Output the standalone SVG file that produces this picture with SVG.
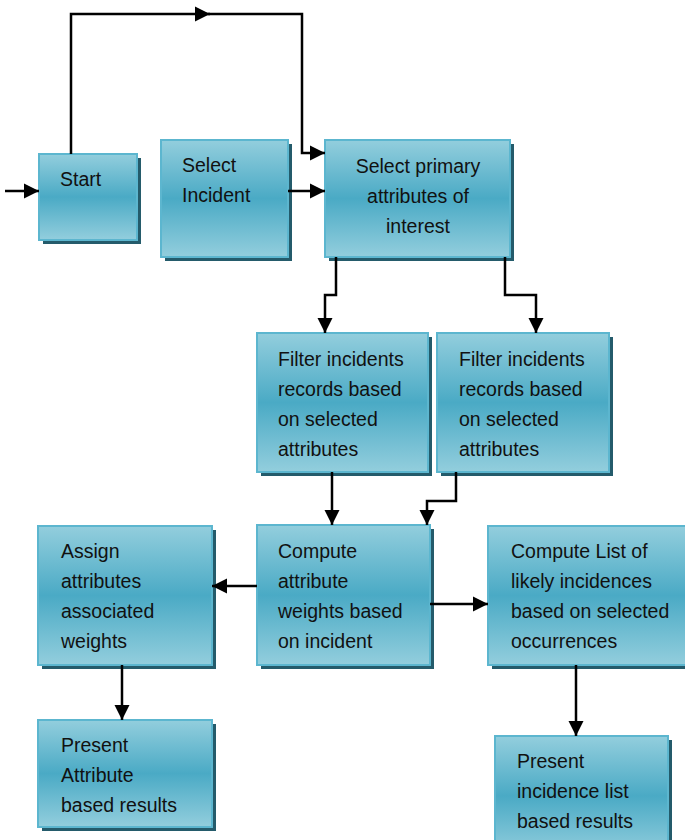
<svg xmlns="http://www.w3.org/2000/svg" width="685" height="840" viewBox="0 0 685 840">
<defs>
<linearGradient id="g" x1="0" y1="0" x2="0" y2="1">
<stop offset="0" stop-color="#93ceDD"/>
<stop offset="0.5" stop-color="#4aaac5"/>
<stop offset="1" stop-color="#93ceDD"/>
</linearGradient>
<marker id="ah" markerUnits="userSpaceOnUse" markerWidth="16" markerHeight="16" refX="15" refY="8" orient="auto">
<path d="M0,0.5 L15,8 L0,15.5 z" fill="#000"/>
</marker>
</defs>
<style>
.sh{fill:#245b6b}
.bx{fill:url(#g);stroke:#5cb6cf;stroke-width:2}
.t{font-family:"Liberation Sans",Arial,sans-serif;font-size:19.5px;fill:#111}
.c{fill:none;stroke:#000;stroke-width:2.5}
</style>
<g id="start">
<rect class="sh" x="43" y="158" width="98" height="86"/>
<rect class="bx" x="39" y="154" width="98" height="86"/>
<text class="t" x="60" y="186">Start</text>
</g>
<g id="select-incident">
<rect class="sh" x="165" y="144" width="127" height="117"/>
<rect class="bx" x="161" y="140" width="127" height="117"/>
<text class="t" x="182" y="172">Select</text>
<text class="t" x="182" y="202">Incident</text>
</g>
<g id="select-primary">
<rect class="sh" x="329" y="144" width="185" height="117"/>
<rect class="bx" x="325" y="140" width="185" height="117"/>
<text class="t" x="418" y="173" text-anchor="middle">Select primary</text>
<text class="t" x="418" y="203" text-anchor="middle">attributes of</text>
<text class="t" x="418" y="233" text-anchor="middle">interest</text>
</g>
<g id="filter-left">
<rect class="sh" x="261" y="337" width="171" height="139"/>
<rect class="bx" x="257" y="333" width="171" height="139"/>
<text class="t" x="278" y="366">Filter incidents</text>
<text class="t" x="278" y="396">records based</text>
<text class="t" x="278" y="426">on selected</text>
<text class="t" x="278" y="456">attributes</text>
</g>
<g id="filter-right">
<rect class="sh" x="441" y="337" width="172" height="139"/>
<rect class="bx" x="437" y="333" width="172" height="139"/>
<text class="t" x="459" y="366">Filter incidents</text>
<text class="t" x="459" y="396">records based</text>
<text class="t" x="459" y="426">on selected</text>
<text class="t" x="459" y="456">attributes</text>
</g>
<g id="assign">
<rect class="sh" x="42" y="530" width="174" height="139"/>
<rect class="bx" x="38" y="526" width="174" height="139"/>
<text class="t" x="61" y="558">Assign</text>
<text class="t" x="61" y="588">attributes</text>
<text class="t" x="61" y="618">associated</text>
<text class="t" x="61" y="648">weights</text>
</g>
<g id="compute-weights">
<rect class="sh" x="261" y="529" width="173" height="140"/>
<rect class="bx" x="257" y="525" width="173" height="140"/>
<text class="t" x="278" y="558">Compute</text>
<text class="t" x="278" y="588">attribute</text>
<text class="t" x="278" y="618">weights based</text>
<text class="t" x="278" y="648">on incident</text>
</g>
<g id="compute-list">
<rect class="sh" x="492" y="530" width="200" height="139"/>
<rect class="bx" x="488" y="526" width="200" height="139"/>
<text class="t" x="511" y="558">Compute List of</text>
<text class="t" x="511" y="588">likely incidences</text>
<text class="t" x="511" y="618">based on selected</text>
<text class="t" x="511" y="648">occurrences</text>
</g>
<g id="present-attribute">
<rect class="sh" x="42" y="724" width="174" height="107"/>
<rect class="bx" x="38" y="720" width="174" height="107"/>
<text class="t" x="61" y="752">Present</text>
<text class="t" x="61" y="782">Attribute</text>
<text class="t" x="61" y="812">based results</text>
</g>
<g id="present-incidence">
<rect class="sh" x="499" y="740" width="173" height="120"/>
<rect class="bx" x="495" y="736" width="173" height="120"/>
<text class="t" x="517" y="768">Present</text>
<text class="t" x="517" y="798">incidence list</text>
<text class="t" x="517" y="828">based results</text>
</g>
<g id="connectors">
<path class="c" d="M5,191 H39" marker-end="url(#ah)"/>
<path class="c" d="M71,154 V14 H210" marker-end="url(#ah)"/>
<path class="c" d="M208,14 H302 V153 H325" marker-end="url(#ah)"/>
<path class="c" d="M288,191 H325" marker-end="url(#ah)"/>
<path class="c" d="M336,257 V295 H325 V333" marker-end="url(#ah)"/>
<path class="c" d="M505,257 V295 H536 V333" marker-end="url(#ah)"/>
<path class="c" d="M332,472 V525" marker-end="url(#ah)"/>
<path class="c" d="M456,472 V501 H427 V525" marker-end="url(#ah)"/>
<path class="c" d="M257,586 H212" marker-end="url(#ah)"/>
<path class="c" d="M430,604 H488" marker-end="url(#ah)"/>
<path class="c" d="M122,665 V720" marker-end="url(#ah)"/>
<path class="c" d="M576,665 V736" marker-end="url(#ah)"/>
</g>
</svg>
